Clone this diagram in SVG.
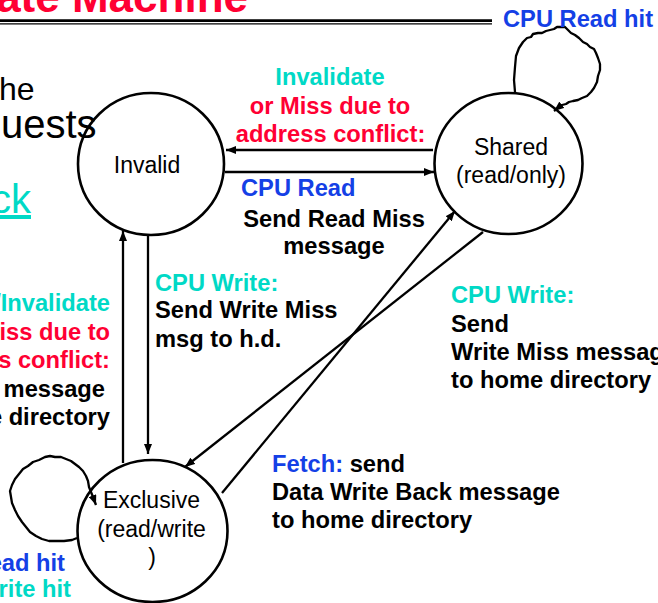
<svg xmlns="http://www.w3.org/2000/svg" width="658" height="603" viewBox="0 0 658 603">
<defs>
<style>
text{font-family:"Liberation Sans",Arial,sans-serif}
.b{font-weight:bold;font-size:23.7px}
.n{font-size:23px;text-anchor:middle;fill:#000}
.red{fill:#FF0033}
.cy{fill:#00D9C6}
.bl{fill:#1440E6}
.k{fill:#000}
.node{fill:none;stroke:#000;stroke-width:2.6}
.con{fill:none;stroke:#000;stroke-width:2.3;marker-end:url(#ah)}
.loop{fill:none;stroke:#000;stroke-width:2.3;stroke-linejoin:round;marker-end:url(#ah)}
</style>
<marker id="ah" markerUnits="userSpaceOnUse" markerWidth="10" markerHeight="8" refX="10" refY="4" orient="auto">
<path d="M0,0 L10,4 L0,8 z" fill="#000"/>
</marker>
</defs>
<rect width="658" height="603" fill="#fff"/>
<g id="slide-background">
<text x="248" y="12" font-size="44" font-weight="bold" text-anchor="end" class="red">ate Machine</text>
<line x1="0" y1="20.7" x2="492" y2="20.7" stroke="#000" stroke-width="2.7"/>
<line x1="0" y1="23.8" x2="492" y2="23.8" stroke="#000" stroke-width="1.3"/>
<text x="-1" y="100" font-size="32" class="k">he</text>
<text x="1" y="138" font-size="40" class="k">uests</text>
<text x="31" y="213" font-size="40" text-anchor="end" text-decoration="underline" class="cy">ck</text>
</g>
<g id="connectors">
<line class="con" x1="433" y1="150" x2="226" y2="150"/>
<line class="con" x1="225" y1="172" x2="434" y2="172"/>
<line class="con" x1="123" y1="463" x2="123" y2="231"/>
<line class="con" x1="148" y1="236" x2="148" y2="454"/>
<line class="con" x1="222" y1="493" x2="455" y2="211"/>
<line class="con" x1="483" y1="232" x2="185" y2="467"/>
<path class="loop" d="M515,92 L514,80 L515,67 L516,56 L519,48 L523,42 L527,38 L531,37 L533,34 L538,33 L542,33 L546,31 L550,30 L554,29 L557,27 L561,27 L565,27 L568,30 L571,33 L575,35 L579,38 L583,42 L587,44 L590,47 L594,49 L596,53 L598,58 L600,64 L600,70 L598,76 L597,82 L594,88 L591,92 L587,96 L582,98 L578,100 L573,101 L569,102 L566,104 L562,105 L559,107 L554,111"/>
<path class="loop" d="M77,538 L72,540 L64,541 L56,541 L49,541 L42,539 L36,536 L30,532 L26,527 L22,522 L18,516 L15,510 L12,503 L11,497 L10,491 L12,485 L15,479 L19,474 L23,469 L28,466 L33,462 L39,460 L45,457 L50,456 L55,457 L61,457 L66,459 L71,461 L75,464 L79,467 L83,471 L86,476 L88,481 L89,487 L91,492 L93,497 L96,505"/>
</g>
<g id="labels">
<text class="b bl" x="503" y="27">CPU Read hit</text>
<text class="b cy" x="330" y="85" text-anchor="middle">Invalidate</text>
<text class="b red" x="330" y="114" text-anchor="middle">or Miss due to</text>
<text class="b red" x="330.5" y="142" text-anchor="middle">address conflict:</text>
<text class="b bl" x="241" y="196">CPU Read</text>
<text class="b k" x="334" y="227" text-anchor="middle">Send Read Miss</text>
<text class="b k" x="334" y="254" text-anchor="middle">message</text>
<text class="b cy" x="155" y="291">CPU Write:</text>
<text class="b k" x="155" y="318">Send Write Miss</text>
<text class="b k" x="155" y="347">msg to h.d.</text>
<text class="b cy" x="110" y="311" text-anchor="end">/Invalidate</text>
<text class="b red" x="110" y="340" text-anchor="end">iss due to</text>
<text class="b red" x="110" y="368" text-anchor="end">s conflict:</text>
<text class="b k" x="105" y="397" text-anchor="end">message</text>
<text class="b k" x="110" y="425" text-anchor="end">e directory</text>
<text class="b cy" x="451" y="303">CPU Write:</text>
<text class="b k" x="451" y="332">Send</text>
<text class="b k" x="451" y="360">Write Miss messag</text>
<text class="b k" x="451" y="388">to home directory</text>
<text class="b" x="272" y="472"><tspan class="bl">Fetch:</tspan><tspan class="k"> send</tspan></text>
<text class="b k" x="272" y="500">Data Write Back message</text>
<text class="b k" x="272" y="528">to home directory</text>
<text class="b bl" x="65" y="571" text-anchor="end">ead hit</text>
<text class="b cy" x="71" y="597" text-anchor="end">rite hit</text>
</g>
<g id="node-invalid">
<ellipse class="node" cx="151" cy="164" rx="73" ry="71"/>
<text class="n" x="147" y="173">Invalid</text>
</g>
<g id="node-shared">
<ellipse class="node" cx="508.5" cy="163.5" rx="74" ry="70.5"/>
<text class="n" x="511" y="155">Shared</text>
<text class="n" x="511" y="183">(read/only)</text>
</g>
<g id="node-exclusive">
<ellipse class="node" cx="152.5" cy="531" rx="75" ry="71"/>
<text class="n" x="151.5" y="508">Exclusive</text>
<text class="n" x="151.5" y="537">(read/write</text>
<text class="n" x="152" y="565">)</text>
</g>
</svg>
